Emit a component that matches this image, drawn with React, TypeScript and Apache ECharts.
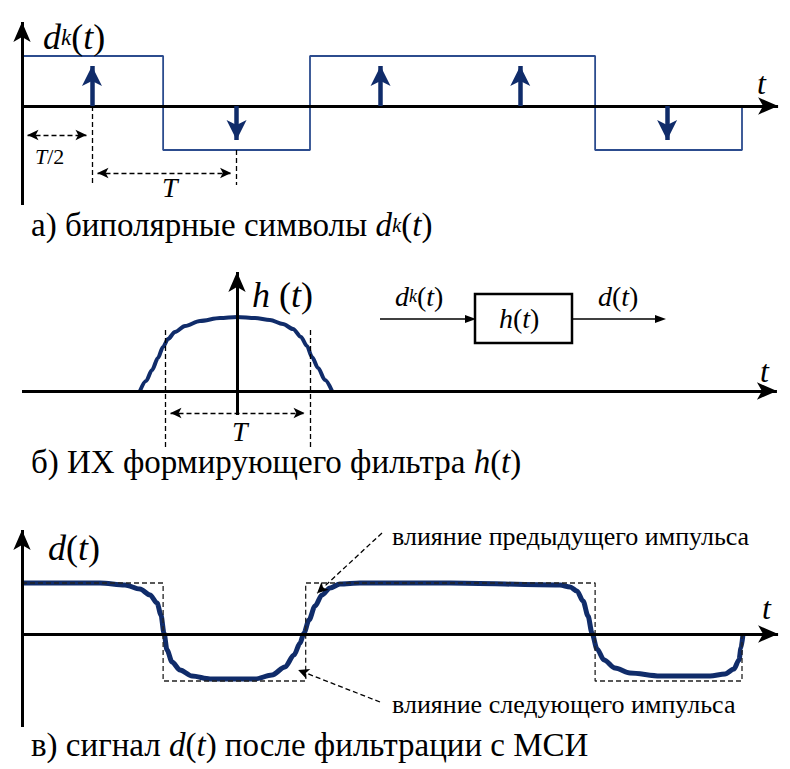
import React, { useEffect, useRef } from 'react';
import * as echarts from 'echarts';

// ---------- data (time in units of T, amplitude in relative units) ----------
// a) bipolar symbols d_k(t)
const edgesA = [0, 0.98, 2.0, 3.0, 3.98, 5.0];
const levelsA = [1, -0.88, 1, 1, -0.88];
const impulseT = [0.486, 1.49, 2.49, 3.46, 4.48];

// b) impulse response h(t)
const hT = [-0.674, -0.632, -0.59, -0.549, -0.514, -0.479, -0.431, -0.361, -0.257, -0.118, 0, 0.125, 0.229, 0.319, 0.389, 0.444, 0.486, 0.521, 0.563, 0.611, 0.66];
const hV = [0, 0.135, 0.284, 0.446, 0.595, 0.703, 0.797, 0.878, 0.946, 0.986, 1.0, 0.986, 0.959, 0.905, 0.838, 0.73, 0.608, 0.459, 0.311, 0.149, 0];

// c) filtered signal d(t) with ISI
const dT = [0, 0.542, 0.715, 0.819, 0.889, 0.938, 0.965, 0.986, 1.007, 1.042, 1.097, 1.181, 1.306, 1.618, 1.736, 1.826, 1.889, 1.931, 1.958, 1.993, 2.035, 2.083, 2.139, 2.208, 2.347, 2.972, 3.736, 3.806, 3.854, 3.896, 3.931, 3.958, 3.993, 4.042, 4.118, 4.222, 4.431, 4.778, 4.882, 4.944, 4.979, 4.993, 5.007];
const dV = [1.02, 1.02, 0.98, 0.9, 0.78, 0.62, 0.38, 0.02, -0.32, -0.56, -0.72, -0.84, -0.9, -0.9, -0.82, -0.66, -0.42, -0.18, 0.02, 0.28, 0.56, 0.78, 0.92, 1.0, 1.02, 1.02, 0.98, 0.94, 0.86, 0.66, 0.36, 0.02, -0.3, -0.52, -0.68, -0.78, -0.84, -0.84, -0.8, -0.7, -0.52, -0.28, 0];
const edgesC = [0, 0.98, 1.97, 3.0, 3.98, 5.0];
const levelsC = [1.02, -0.94, 1.02, 1.02, -0.94];

// ---------- layout ----------
const SERIF = 'Liberation Serif';
const NAVY = '#102c6a';
const WAVE = '#2c4c8e';
const W = 790;
const SX = 144;
const panels = [
  { ox: 22, oy: 106, sy: 50, top: 0, height: 250 },
  { ox: 237, oy: 391, sy: 74, top: 250, height: 240 },
  { ox: 22, oy: 634, sy: 50, top: 490, height: 279 },
];

type P = [number, number];

function shift(gi: number, p: P, q: P, len: number): P {
  const sy = panels[gi].sy;
  const dx = (q[0] - p[0]) * SX;
  const dy = (q[1] - p[1]) * sy;
  const d = Math.hypot(dx, dy) || 1;
  return [q[0] - (dx / d) * len / SX, q[1] - (dy / d) * len / sy];
}

function seg(gi: number, a: P, b: P, o: any = {}) {
  const color = o.color || '#000';
  const width = o.width || 1.5;
  const type = o.type || 'solid';
  const start = o.start || null;
  const end = o.end || null;
  const A = start ? shift(gi, b, a, start[1] / 2) : a;
  const B = end ? shift(gi, a, b, end[1] / 2) : b;
  return [
    { coord: A, symbol: start ? 'arrow' : 'none', symbolSize: start || 1, lineStyle: { color, width, type }, itemStyle: { color } },
    { coord: B, symbol: end ? 'arrow' : 'none', symbolSize: end || 1, itemStyle: { color } },
  ];
}

function stepPoints(edges: number[], levels: number[]) {
  const pts: P[] = [];
  levels.forEach((lv, i) => {
    pts.push([edges[i], lv]);
    pts.push([edges[i + 1], lv]);
  });
  pts.push([edges[edges.length - 1], 0]);
  return pts;
}

function markSeries(gi: number, lines: any[]) {
  return {
    type: 'line', xAxisIndex: gi, yAxisIndex: gi, data: [[0, 0]], symbol: 'none', showSymbol: false,
    lineStyle: { opacity: 0 }, silent: true, clip: false, z: 1,
    markLine: { silent: true, animation: false, label: { show: false }, emphasis: { disabled: true }, data: lines },
  };
}

const AX: P = [13, 20];
const SMALL: P = [8, 11];
const DASH = [5, 3];

function buildOption() {
  const grids = panels.map((p) => ({ left: 0, top: p.top, width: W, height: p.height, containLabel: false }));
  const xAxis = panels.map((p, i) => ({ type: 'value', gridIndex: i, show: false, min: -p.ox / SX, max: (W - p.ox) / SX }));
  const yAxis = panels.map((p, i) => ({ type: 'value', gridIndex: i, show: false, max: (p.oy - p.top) / p.sy, min: -(p.top + p.height - p.oy) / p.sy }));

  const linesA: any[] = [
    seg(0, [0, -1.98], [0, 1.88], { width: 3, end: AX }),
    seg(0, [0, 0], [5.32, 0], { width: 3, end: AX }),
    ...impulseT.map((t, i) => seg(0, [t, 0], [t, levelsA[i]], { color: NAVY, width: 4.5, end: [15, 20] })),
    seg(0, [0, -0.58], [impulseT[0], -0.58], { type: DASH, width: 1.3, start: SMALL, end: SMALL }),
    seg(0, [impulseT[0], 0], [impulseT[0], -1.58], { type: DASH, width: 1.3 }),
    seg(0, [impulseT[0], -1.34], [impulseT[1], -1.34], { type: DASH, width: 1.3, start: SMALL, end: SMALL }),
    seg(0, [impulseT[1], levelsA[1]], [impulseT[1], -1.58], { type: DASH, width: 1.3 }),
  ];
  const linesB: any[] = [
    seg(1, [-1.493, 0], [3.819, 0], { width: 3, end: AX }),
    seg(1, [0, -0.324], [0, 1.743], { width: 3, end: AX }),
    seg(1, [-0.5, 0.824], [-0.5, -0.757], { type: DASH, width: 1.3 }),
    seg(1, [0.507, 0.824], [0.507, -0.757], { type: DASH, width: 1.3 }),
    seg(1, [-0.5, -0.297], [0.507, -0.297], { type: DASH, width: 1.3, start: SMALL, end: SMALL }),
  ];
  const linesC: any[] = [
    seg(2, [0, -1.86], [0, 2.28], { width: 3, end: AX }),
    seg(2, [0, 0], [5.32, 0], { width: 3, end: AX }),
    seg(2, [2.5, 2.02], [2.021, 0.74], { type: DASH, width: 1.3, end: SMALL }),
    seg(2, [2.486, -1.36], [1.882, -0.68], { type: DASH, width: 1.3, end: SMALL }),
  ];

  const series: any[] = [
    markSeries(0, linesA),
    markSeries(1, linesB),
    markSeries(2, linesC),
    {
      type: 'line', xAxisIndex: 0, yAxisIndex: 0, data: stepPoints(edgesA, levelsA), symbol: 'none', silent: true, z: 2,
      lineStyle: { color: WAVE, width: 1.8 },
    },
    {
      type: 'line', xAxisIndex: 1, yAxisIndex: 1, data: hT.map((t, i) => [t, hV[i]]), symbol: 'none', silent: true, z: 3,
      smooth: 0.3, smoothMonotone: 'x', lineStyle: { color: NAVY, width: 4 },
    },
    {
      type: 'line', xAxisIndex: 2, yAxisIndex: 2, data: dT.map((t, i) => [t, dV[i]]), symbol: 'none', silent: true, z: 3,
      smooth: 0.3, smoothMonotone: 'x', lineStyle: { color: NAVY, width: 5 },
    },
    {
      type: 'line', xAxisIndex: 2, yAxisIndex: 2, data: stepPoints(edgesC, levelsC), symbol: 'none', silent: true, z: 4,
      lineStyle: { color: '#222', width: 1.3, type: DASH },
    },
  ];

  const rich = (size: number, sub = 0.65) => ({
    i: { fontFamily: SERIF, fontSize: size, fontStyle: 'italic', fontWeight: 'normal', color: '#000' },
    n: { fontFamily: SERIF, fontSize: size, fontWeight: 'normal', color: '#000' },
    k: { fontFamily: SERIF, fontSize: Math.round(size * sub), fontStyle: 'italic', fontWeight: 'normal', color: '#000' },
  });
  // texts as title components: x = left edge, yc = vertical centre
  const lbl = (x: number, yc: number, text: string, size: number) => ({
    text, left: x, top: Math.round(yc - size * 0.55), padding: 0,
    textStyle: { fontFamily: SERIF, fontSize: size, fontWeight: 'normal', color: '#000', rich: rich(size) },
  });

  const title: any[] = [
    lbl(43, 39, '{i|d}{k|k}{n|(}{i|t}{n|)}', 36),
    lbl(757, 85, '{i|t}', 32),
    lbl(35, 157, '{i|T}{n|/2}', 22),
    lbl(162, 188, '{i|T}', 28),
    lbl(31, 226, '{n|а) биполярные символы }{i|d}{k|k}{n|(}{i|t}{n|)}', 33),
    lbl(252, 297, '{i|h}{n| (}{i|t}{n|)}', 36),
    lbl(232, 432, '{i|T}', 28),
    lbl(760, 373, '{i|t}', 32),
    lbl(395, 297, '{i|d}{k|k}{n|(}{i|t}{n|)}', 28),
    lbl(499, 319, '{i|h}{n|(}{i|t}{n|)}', 28),
    lbl(598, 297, '{i|d}{n|(}{i|t}{n|)}', 28),
    lbl(31, 463, '{n|б) ИХ формирующего фильтра }{i|h}{n|(}{i|t}{n|)}', 33),
    lbl(48, 550, '{i|d}{n|(}{i|t}{n|)}', 36),
    lbl(762, 610, '{i|t}', 32),
    lbl(392, 537, '{n|влияние предыдущего импульса}', 26),
    lbl(392, 705, '{n|влияние следующего импульса}', 26),
    lbl(31, 746, '{n|в) сигнал }{i|d}{n|(}{i|t}{n|) после фильтрации с МСИ}', 33),
  ];

  const graphic: any[] = [
    { type: 'line', silent: true, shape: { x1: 380, y1: 319, x2: 468, y2: 319 }, style: { stroke: '#000', lineWidth: 1.5 } },
    { type: 'polygon', silent: true, shape: { points: [[476, 319], [465, 315], [465, 323]] }, style: { fill: '#000' } },
    { type: 'rect', silent: true, shape: { x: 475, y: 294, width: 97, height: 49 }, style: { stroke: '#000', lineWidth: 2.5, fill: 'none' } },
    { type: 'line', silent: true, shape: { x1: 572, y1: 319, x2: 658, y2: 319 }, style: { stroke: '#000', lineWidth: 1.5 } },
    { type: 'polygon', silent: true, shape: { points: [[666, 319], [655, 315], [655, 323]] }, style: { fill: '#000' } },
  ];

  return { animation: false, backgroundColor: '#fff', title, grid: grids, xAxis, yAxis, series, graphic };
}

export default function App() {
  const ref = useRef<HTMLDivElement>(null);
  useEffect(() => {
    if (!ref.current) return;
    const chart = echarts.init(ref.current, undefined, { renderer: 'svg' });
    chart.setOption(buildOption() as any);
    return () => chart.dispose();
  }, []);
  return <div ref={ref} style={{ position: 'fixed', left: 0, top: 0, width: 790, height: 769, background: '#fff', fontFamily: 'Liberation Serif' }} />;
}
